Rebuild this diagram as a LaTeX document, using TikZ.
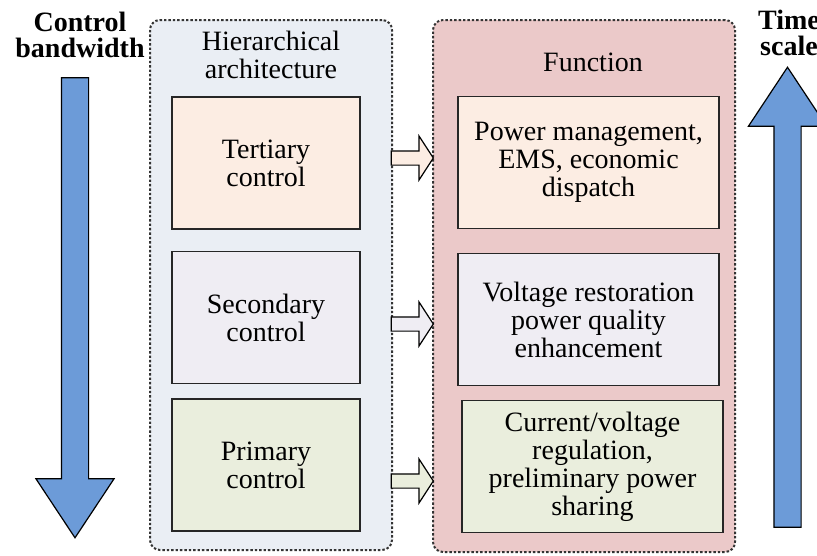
\documentclass[tikz,border=0pt]{standalone}
\usepackage{fontspec}
\setmainfont{Liberation Serif}
\usetikzlibrary{shapes.arrows}

\definecolor{arrowblue}{RGB}{108,155,216}
\definecolor{archfill}{RGB}{234,238,244}
\definecolor{funcfill}{RGB}{235,201,201}
\definecolor{tertfill}{RGB}{252,237,227}
\definecolor{secfill}{RGB}{239,237,243}
\definecolor{primfill}{RGB}{234,238,221}

\begin{document}
\begin{tikzpicture}[x=1pt, y=-1pt,
    every node/.style={align=center, font=\fontsize{28}{28}\selectfont},
    panel/.style={rectangle, draw=black!80, line width=2pt, dash pattern=on 2.4pt off 2pt, rounded corners=10pt},
    levelbox/.style={rectangle, draw=black!85, line width=1.3pt, minimum width=188pt, minimum height=132pt},
    funcbox/.style={rectangle, draw=black!85, line width=1.3pt, minimum width=261pt, minimum height=132pt},
    linkarrow/.style={single arrow, draw=black, line width=1.2pt, inner xsep=0pt, inner ysep=6.5pt,
        minimum height=42pt, single arrow head extend=15pt, single arrow tip angle=114},
    bigarrow/.style={single arrow, draw=black, fill=arrowblue, line width=1.2pt, inner xsep=0pt, inner ysep=13pt,
        minimum height=460pt, single arrow head extend=25.5pt, single arrow tip angle=67}]
    \useasboundingbox (0,0) rectangle (817,555);

    % panels
    \node[panel, fill=archfill, minimum width=242pt, minimum height=530pt] (archpanel) at (271,285) {};
    \node[panel, fill=funcfill, minimum width=302pt, minimum height=532pt] (funcpanel) at (584,286) {};
    \node (archtitle) at (271,55) {Hierarchical\\architecture};
    \node (functitle) at (593,62) {Function};

    % control levels
    \node[levelbox, fill=tertfill] (tertiary) at (266,163) {Tertiary\\control};
    \node[levelbox, fill=secfill] (secondary) at (266,317.5) {Secondary\\control};
    \node[levelbox, fill=primfill] (primary) at (266,465) {Primary\\control};

    % functions
    \node[funcbox, fill=tertfill] (ems) at (588.5,162.5) {Power management,\\EMS, economic\\dispatch};
    \node[funcbox, fill=secfill] (restore) at (588.5,319.5) {Voltage restoration\\power quality\\enhancement};
    \node[funcbox, fill=primfill] (regulate) at (592.5,466.5) {Current/voltage\\regulation,\\preliminary power\\sharing};

    % links between the panels
    \node[linkarrow, fill=tertfill] (tertlink) at (410,158) {};
    \node[linkarrow, fill=secfill] (seclink) at (410,324) {};
    \node[linkarrow, fill=primfill] (primlink) at (410,481) {};

    % side arrows
    \node[bigarrow, rotate=-90] (bandarrow) at (75,297.5) {};
    \node[bigarrow, rotate=90] (timearrow) at (787.5,307.5) {};
    \node[font=\fontsize{28}{26}\selectfont\bfseries] (bandlabel) at (80,35) {Control\\bandwidth};
    \node[font=\fontsize{28}{26}\selectfont\bfseries] (timelabel) at (789,33) {Time\\scale};
\end{tikzpicture}
\end{document}
